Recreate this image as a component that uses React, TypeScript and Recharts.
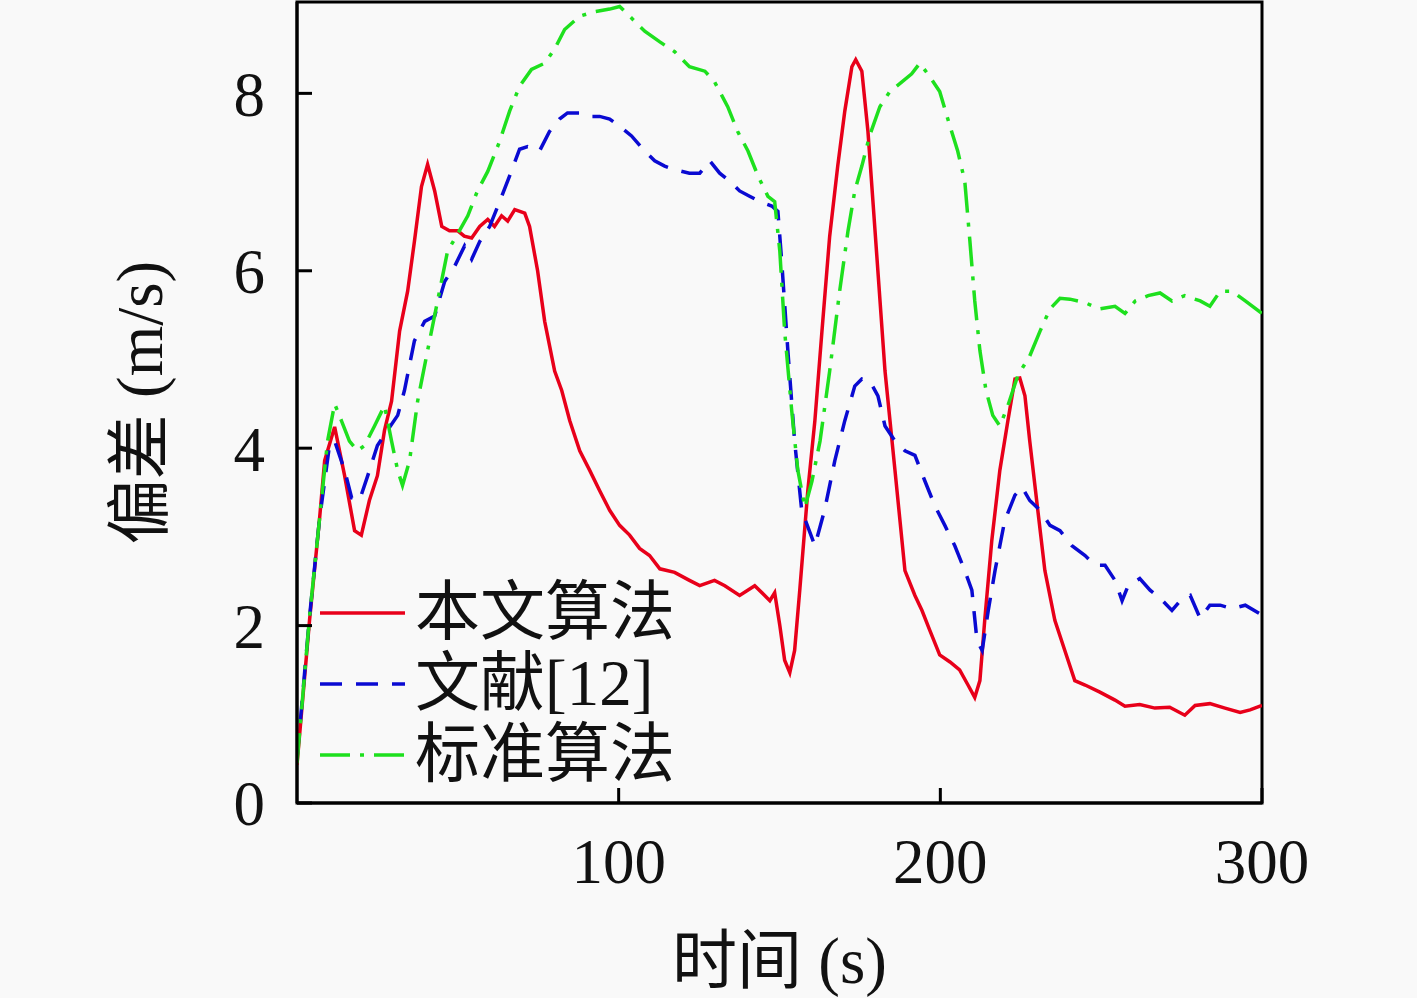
import { Legend, Line, LineChart, ReferenceArea, XAxis, YAxis } from 'recharts'

document.body.style.margin = '0'
document.body.style.background = '#f9f9f9'

const SERIF = '"Liberation Serif", "DejaVu Serif", "Noto Sans CJK SC", serif'

const TIME_TICKS = [100, 200, 300]
const DEV_TICKS = [0, 2, 4, 6, 8]
const Y_MAX = 9.03

// [time (s), deviation (m/s)]
const OURS: [number, number][] = [
  [0, 0.43], [3.9, 2.06], [7, 3.2], [8.6, 3.86], [11.7, 4.24], [14.8, 3.69], [17.9, 3.07], [20, 3.02],
  [22.5, 3.41], [25, 3.69], [27.2, 4.2], [29.4, 4.53], [31.9, 5.32], [34.4, 5.77], [36.5, 6.33], [38.7, 6.95],
  [40.6, 7.2], [42.8, 6.9], [45, 6.5], [47.4, 6.45], [50, 6.45], [52, 6.39], [54.3, 6.37], [56.8, 6.5],
  [59.3, 6.58], [61.4, 6.5], [63.6, 6.62], [65.5, 6.56], [67.7, 6.69], [70.8, 6.65], [72.3, 6.5], [74.8, 6.0],
  [77, 5.43], [80.1, 4.87], [82.3, 4.65], [84.8, 4.31], [87.9, 3.97], [91, 3.75], [94.1, 3.52], [97.2, 3.3],
  [100.3, 3.13], [103.4, 3.02], [106.5, 2.87], [109.6, 2.79], [112.8, 2.64], [117.4, 2.6], [122, 2.51],
  [125.2, 2.45], [129.8, 2.51], [133, 2.45], [137.6, 2.34], [142.3, 2.45], [145.4, 2.34], [147, 2.28],
  [148.5, 2.37], [150.1, 2.0], [151.6, 1.61], [153.2, 1.47], [154.7, 1.72], [156.3, 2.4], [158.8, 3.52],
  [161, 4.31], [163.2, 5.32], [165.6, 6.39], [168.1, 7.18], [170.3, 7.8], [172.5, 8.3], [173.7, 8.38],
  [175.6, 8.25], [177.5, 7.57], [179.7, 6.45], [182.8, 4.87], [185.9, 3.75], [189, 2.62], [192.1, 2.34],
  [194.3, 2.17], [196.7, 1.95], [199.8, 1.67], [203, 1.59], [206, 1.5], [208.6, 1.33], [210.7, 1.19],
  [212.3, 1.38], [213.8, 2.06], [216, 2.96], [218.5, 3.75], [221, 4.31], [223.2, 4.78], [224.7, 4.79],
  [226.3, 4.59], [227.8, 4.08], [230.3, 3.3], [232.5, 2.62], [235.6, 2.06], [238.7, 1.72], [241.8, 1.38],
  [245, 1.33], [249.6, 1.25], [254.3, 1.16], [257.4, 1.09], [262, 1.11], [266.7, 1.07], [271.3, 1.08],
  [276, 0.99], [279.2, 1.1], [283.8, 1.12], [288.5, 1.07], [293.2, 1.02], [296.3, 1.05], [300, 1.1],
]

const REF12: [number, number][] = [
  [0, 0.5], [3.9, 2.1], [7, 3.2], [10.1, 4.03], [11.7, 4.08], [14.8, 3.75], [17, 3.44], [19.4, 3.41],
  [22, 3.69], [25, 4.03], [28.1, 4.2], [31.3, 4.37], [33.4, 4.65], [36.5, 5.21], [39.7, 5.43], [42.8, 5.49],
  [45.9, 5.88], [49, 6.05], [52.1, 6.28], [54.3, 6.13], [56.8, 6.33], [59.9, 6.5], [63, 6.78], [66.1, 7.07],
  [69.2, 7.37], [71.7, 7.4], [75.4, 7.35], [78.5, 7.57], [81.6, 7.71], [84.1, 7.78], [87.9, 7.78], [91, 7.74],
  [94.1, 7.74], [97.2, 7.71], [100.3, 7.63], [104, 7.52], [108.1, 7.35], [111.2, 7.24], [114.3, 7.18],
  [117.4, 7.14], [122, 7.1], [125.2, 7.1], [128.3, 7.24], [131.4, 7.1], [134.5, 7.01], [137.6, 6.9],
  [140.7, 6.84], [143.9, 6.78], [147.6, 6.73], [149.5, 6.67], [150.7, 6.1], [152.6, 5.1], [154.7, 4.08],
  [156.9, 3.3], [161, 2.9], [164, 3.3], [167.2, 3.86], [170.3, 4.31], [173.4, 4.7], [175.6, 4.78],
  [178, 4.76], [180.6, 4.59], [182.8, 4.25], [185.9, 4.08], [189, 3.97], [192.1, 3.92], [195.2, 3.63],
  [198.3, 3.35], [201.4, 3.13], [204.5, 2.9], [207.6, 2.62], [209.8, 2.4], [211.4, 1.83], [213, 1.72],
  [214.9, 2.17], [217, 2.62], [220, 3.18], [223.2, 3.47], [225.4, 3.56], [227.8, 3.41], [231, 3.3],
  [234.1, 3.13], [237.2, 3.07], [240.9, 2.9], [245, 2.79], [248.1, 2.68], [251.2, 2.68], [254.3, 2.51],
  [256.5, 2.28], [258.4, 2.45], [262, 2.53], [265.2, 2.4], [268.3, 2.31], [272, 2.17], [274.6, 2.28],
  [277.7, 2.34], [280.8, 2.08], [283.8, 2.23], [287, 2.23], [290.7, 2.19], [294.8, 2.23], [300, 2.12],
]

const STANDARD: [number, number][] = [
  [0, 0.45], [3.9, 2.1], [7, 3.2], [9.5, 4.08], [11.7, 4.5], [13.8, 4.31], [16.3, 4.08], [18.8, 3.97],
  [21, 4.03], [24.1, 4.25], [27.2, 4.48], [29.4, 4.08], [31.3, 3.75], [32.8, 3.58], [35, 3.86], [37.5, 4.53],
  [40.6, 5.1], [43.7, 5.66], [46.8, 6.22], [50, 6.42], [53.1, 6.62], [56.1, 6.9], [59.3, 7.12], [63, 7.46],
  [66.1, 7.8], [69.2, 8.08], [72.9, 8.27], [77, 8.34], [80.1, 8.5], [83.2, 8.72], [87.9, 8.87], [92.5, 8.92],
  [97.2, 8.95], [100.3, 8.98], [103.4, 8.87], [108.1, 8.7], [112.8, 8.58], [117.4, 8.47], [122, 8.3],
  [126.8, 8.25], [129.8, 8.13], [133.9, 7.85], [137, 7.57], [140.2, 7.35], [143.3, 7.07], [146.4, 6.84],
  [148.5, 6.78], [150.1, 6.22], [151.6, 5.32], [153.8, 4.42], [155.7, 3.75], [157.9, 3.33], [160.1, 3.63],
  [162.6, 4.08], [165.6, 4.87], [168.7, 5.77], [171.3, 6.45], [173.4, 6.9], [175.6, 7.18], [178, 7.52],
  [181.2, 7.85], [184.3, 8.02], [187.4, 8.11], [191.1, 8.22], [193.6, 8.34], [196.7, 8.19], [199.8, 8.02],
  [203, 7.63], [205.4, 7.35], [207.6, 7.01], [209.2, 6.33], [210.7, 5.66], [212.3, 5.1], [214.2, 4.65],
  [216.3, 4.37], [218.5, 4.25], [221, 4.48], [224.1, 4.82], [227.8, 5.04], [231, 5.32], [234.1, 5.57],
  [237.2, 5.69], [240.3, 5.68], [245, 5.64], [249.6, 5.57], [254.3, 5.6], [257.4, 5.52], [260.6, 5.66],
  [264.6, 5.72], [268.3, 5.75], [272, 5.66], [276, 5.72], [280.8, 5.66], [283.8, 5.6], [287, 5.77],
  [290.7, 5.77], [294.8, 5.66], [300, 5.52],
]

const SERIES = [
  { name: '本文算法', points: OURS, color: '#e8001a', dash: undefined },
  { name: '文献[12]', points: REF12, color: '#0a0ad2', dash: '22 14' },
  { name: '标准算法', points: STANDARD, color: '#1ee01e', dash: '30 10 4 10' },
]

function LegendBox() {
  return (
    <div style={{ display: 'flex', flexDirection: 'column' }}>
      {SERIES.map((s) => (
        <div key={s.name} style={{ display: 'flex', alignItems: 'center', height: 71 }}>
          <svg width={95} height={10}>
            <line x1={0} y1={5} x2={85} y2={5} stroke={s.color} strokeWidth={3.5} strokeDasharray={s.dash} />
          </svg>
          <span style={{ fontFamily: SERIF, fontSize: 65, lineHeight: 1, color: '#111' }}>{s.name}</span>
        </div>
      ))}
    </div>
  )
}

const TICK_STYLE = { fontFamily: SERIF, fontSize: 63, fill: '#111' }

export default function App() {
  return (
    <LineChart width={1417} height={998} margin={{ top: 2, right: 155, bottom: 75, left: 0 }}>
      <XAxis
        type="number"
        dataKey="t"
        domain={[0, 300]}
        ticks={TIME_TICKS}
        height={120}
        tick={TICK_STYLE}
        tickSize={-15}
        tickMargin={50}
        tickLine={{ stroke: '#000', strokeWidth: 3 }}
        axisLine={{ stroke: '#000', strokeWidth: 3 }}
        allowDataOverflow
        label={({ viewBox }: any) => (
          <text x={viewBox.x + viewBox.width / 2} y={viewBox.y + 180} textAnchor="middle" style={{ fontFamily: SERIF, fontSize: 65, fill: '#111' }}>
            时间 (s)
          </text>
        )}
      />
      <YAxis
        type="number"
        domain={[0, Y_MAX]}
        ticks={DEV_TICKS}
        width={297}
        tick={TICK_STYLE}
        tickSize={-15}
        tickMargin={47}
        tickLine={{ stroke: '#000', strokeWidth: 3 }}
        axisLine={{ stroke: '#000', strokeWidth: 3 }}
        allowDataOverflow
        label={({ viewBox }: any) => (
          <text
            x={140}
            y={viewBox.y + viewBox.height / 2}
            textAnchor="middle"
            dominantBaseline="central"
            transform={`rotate(-90 140 ${viewBox.y + viewBox.height / 2})`}
            style={{ fontFamily: SERIF, fontSize: 65, fill: '#111' }}
          >
            偏差 (m/s)
          </text>
        )}
      />
      <ReferenceArea x1={0} x2={300} y1={0} y2={Y_MAX} fill="none" stroke="#000" strokeWidth={3} ifOverflow="visible" />
      {SERIES.map((s) => (
        <Line
          key={s.name}
          data={s.points.map(([t, v]) => ({ t, v }))}
          dataKey="v"
          name={s.name}
          type="linear"
          stroke={s.color}
          strokeWidth={3.5}
          strokeDasharray={s.dash}
          dot={false}
          isAnimationActive={false}
        />
      ))}
      <Legend
        layout="vertical"
        align="center"
        verticalAlign="middle"
        content={() => <LegendBox />}
        wrapperStyle={{ left: 320, top: 577, width: 'auto' }}
      />
    </LineChart>
  )
}
